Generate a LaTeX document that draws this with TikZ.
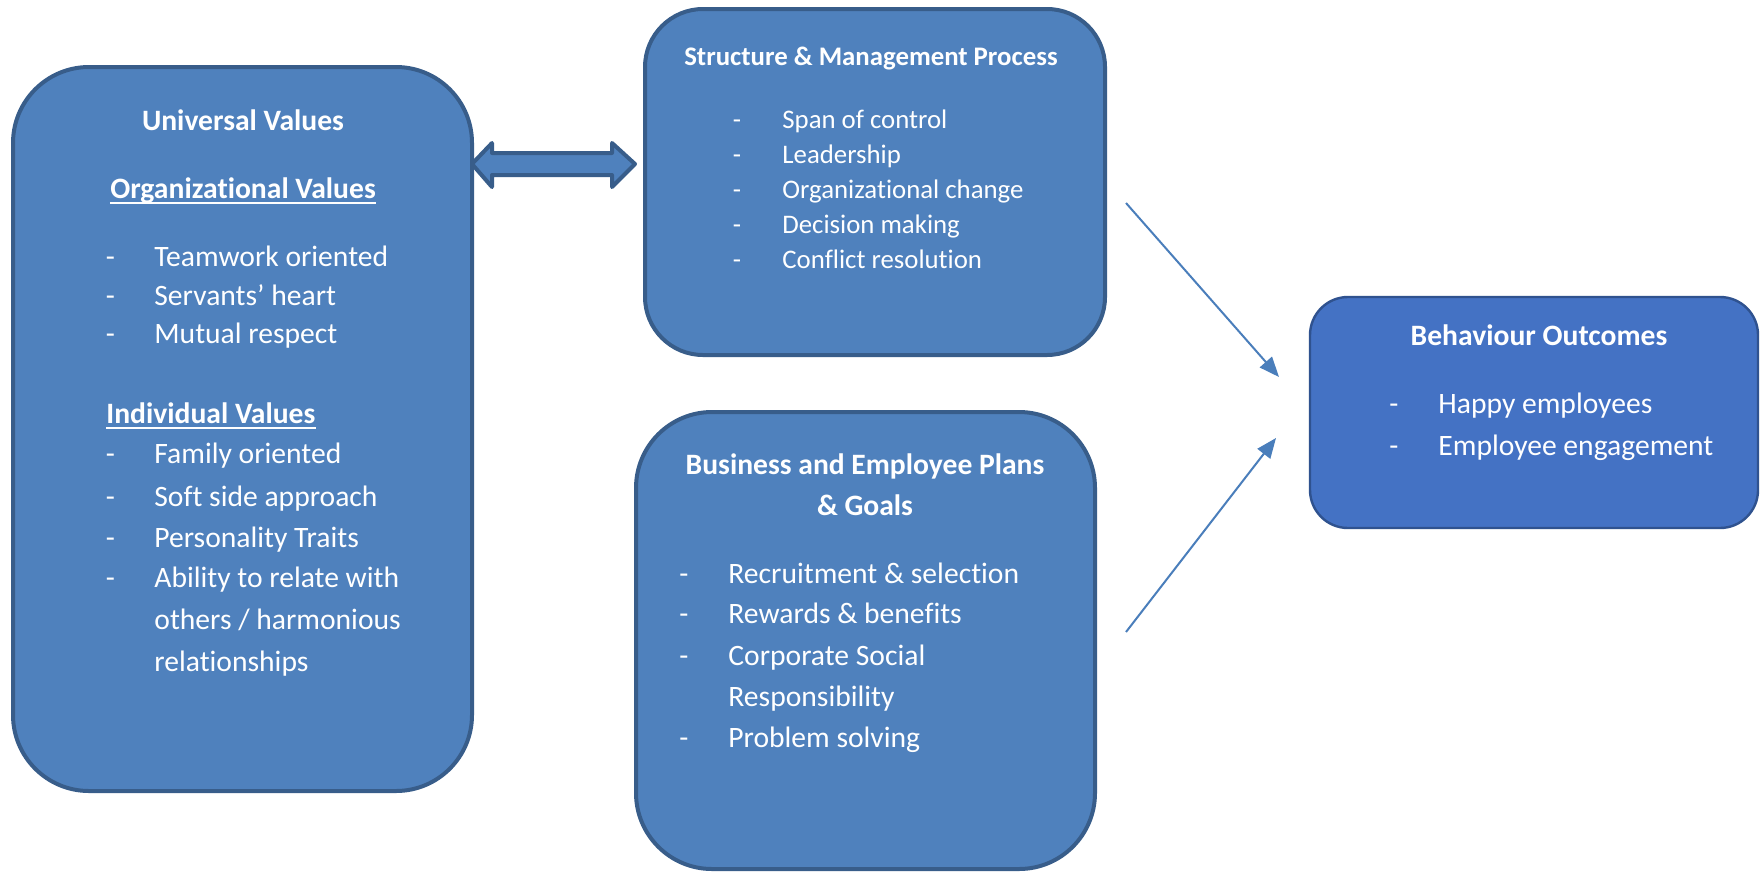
\documentclass[tikz,border=0pt]{standalone}
\usepackage{fontspec}
\setmainfont{Carlito}[RawFeature={-liga;-clig;-calt;-dlig}]
\usetikzlibrary{arrows.meta}

\definecolor{boxfill}{HTML}{4F81BD}
\definecolor{boxline}{HTML}{385D8A}
\definecolor{outfill}{HTML}{4472C4}
\definecolor{outline}{HTML}{2F528F}
\definecolor{arrowcol}{HTML}{4A7EBB}

\tikzset{
  panel/.style={draw=boxline, fill=boxfill, line width=2pt, inner sep=0pt},
  outpanel/.style={draw=outline, fill=outfill, line width=1.2pt, inner sep=0pt, rounded corners=19pt},
  txt/.style={text=white, inner sep=0pt, font=\fontsize{14.8}{17}\selectfont},
  smalltxt/.style={text=white, inner sep=0pt, font=\fontsize{13.4}{16}\selectfont},
  head/.style={txt, font=\fontsize{14.8}{17}\selectfont\bfseries},
  smallhead/.style={smalltxt, font=\fontsize{13.4}{16}\selectfont\bfseries},
  flow/.style={draw=arrowcol, line width=1pt, -{Triangle[length=10pt, width=8pt]}},
}

\begin{document}
\begin{tikzpicture}[x=0.5pt, y=-0.5pt]
  \fill[white] (0,0) rectangle (1760,873);
  \useasboundingbox (0,0) rectangle (1760,873);

  % ---- boxes ----
  \node[panel, rounded corners=38pt, minimum width=229.5pt, minimum height=362pt] (uv) at (242.5,429) {};
  \node[panel, rounded corners=29pt, minimum width=230pt, minimum height=173pt] (sm) at (875,182) {};
  \node[panel, rounded corners=38pt, minimum width=229.5pt, minimum height=228.5pt] (bp) at (865.5,640.5) {};
  \node[outpanel, minimum width=224pt, minimum height=115.5pt] (bo) at (1534,412.5) {};

  % ---- two-headed block arrow between the values and the structure box ----
  \draw[boxline, fill=boxfill, line width=2pt, line join=round]
    (472,164) -- (492,143) -- (492,153) -- (612,153) -- (612,143) -- (635,164)
    -- (612,187) -- (612,175) -- (492,175) -- (492,187) -- cycle;

  % ---- connectors into the outcomes box ----
  \coordinate (s1) at (1126,203);
  \coordinate (e1) at (1279,377);
  \coordinate (s2) at (1126,632);
  \coordinate (e2) at (1276,438);
  \draw[flow] (s1) -- (e1);
  \draw[flow] (s2) -- (e2);

  % ---- Universal Values ----
  \node[head, anchor=base] (uvt) at (243,130) {Universal Values};
  \node[head, anchor=base] (ovt) at (243,198) {Organizational Values};
  \draw[white, line width=0.9pt] ([yshift=-2.3pt]ovt.base west) -- ([yshift=-2.3pt]ovt.base east);
  \foreach \t/\yy [count=\i] in {Teamwork oriented/266, Servants’ heart/305, Mutual respect/343}{
    \node[txt, anchor=base] (ovd\i) at (110.5,\yy) {-};
    \node[txt, anchor=base west] (ov\i) at (154,\yy) {\t};
  }
  \node[head, anchor=base west] (ivt) at (106,423) {Individual Values};
  \draw[white, line width=0.9pt] ([yshift=-2.3pt]ivt.base west) -- ([yshift=-2.3pt]ivt.base east);
  \foreach \t/\yy [count=\i] in {Family oriented/463, Soft side approach/506, Personality Traits/547, Ability to relate with/587}{
    \node[txt, anchor=base] (ivd\i) at (110.5,\yy) {-};
    \node[txt, anchor=base west] (iv\i) at (154,\yy) {\t};
  }
  \node[txt, anchor=base west] (iv5) at (154,629) {others / harmonious};
  \node[txt, anchor=base west] (iv6) at (154,671) {relationships};

  % ---- Structure & Management Process ----
  \node[smallhead, anchor=base] (smt) at (871,65) {Structure \& Management Process};
  \foreach \t/\yy [count=\i] in {Span of control/128, Leadership/163, Organizational change/198, Decision making/233, Conflict resolution/268}{
    \node[smalltxt, anchor=base] (smd\i) at (737,\yy) {-};
    \node[smalltxt, anchor=base west] (sm\i) at (782,\yy) {\t};
  }

  % ---- Business and Employee Plans & Goals ----
  \node[head, anchor=base] (bpt1) at (865,474) {Business and Employee Plans};
  \node[head, anchor=base] (bpt2) at (865,515) {\& Goals};
  \foreach \t/\yy [count=\i] in {Recruitment \& selection/583, Rewards \& benefits/623, Corporate Social/665}{
    \node[txt, anchor=base] (bpd\i) at (684,\yy) {-};
    \node[txt, anchor=base west] (bp\i) at (728,\yy) {\t};
  }
  \node[txt, anchor=base west] (bp4) at (728,706) {Responsibility};
  \node[txt, anchor=base] (bpd5) at (684,747) {-};
  \node[txt, anchor=base west] (bp5) at (728,747) {Problem solving};

  % ---- Behaviour Outcomes ----
  \node[head, anchor=base] (bot) at (1539,345) {Behaviour Outcomes};
  \foreach \t/\yy [count=\i] in {Happy employees/413, Employee engagement/455}{
    \node[txt, anchor=base] (bod\i) at (1394,\yy) {-};
    \node[txt, anchor=base west] (bo\i) at (1438,\yy) {\t};
  }
\end{tikzpicture}
\end{document}
